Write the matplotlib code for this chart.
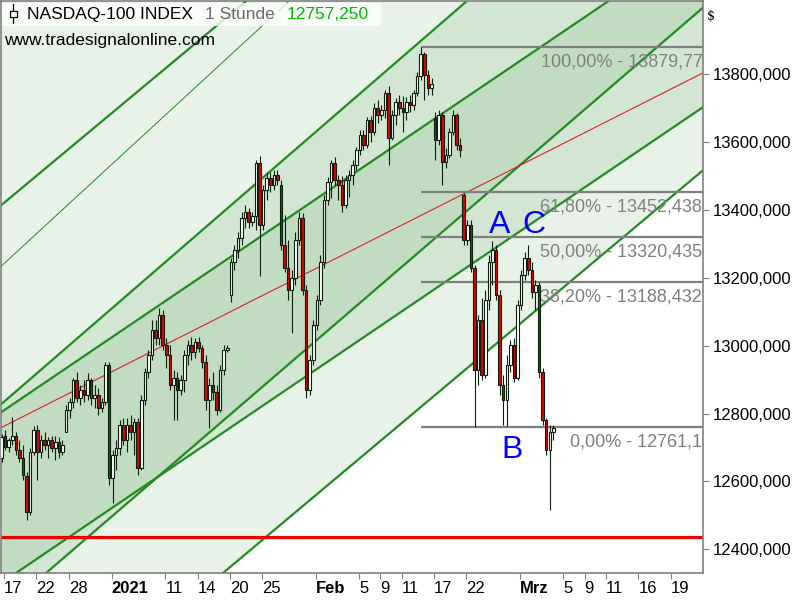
import numpy as np
import matplotlib.pyplot as plt
from matplotlib.patches import Rectangle
from matplotlib.lines import Line2D
from matplotlib.transforms import offset_copy

plt.rcParams['font.family'] = ['Liberation Sans', 'DejaVu Sans']

opens = [12669, 12734, 12701, 12722, 12734, 12693, 12669, 12616, 12510, 12687,
         12752, 12687, 12722, 12707, 12722, 12698, 12716, 12687, 12746, 12811,
         12834, 12899, 12846, 12870, 12855, 12899, 12846, 12855, 12816, 12834,
         12943, 12610, 12678, 12698, 12766, 12722, 12766, 12746, 12775, 12639,
         12840, 12923, 12973, 13047, 13023, 13091, 13002, 12973, 12884, 12905,
         12870, 12899, 12973, 13002, 12982, 13011, 12993, 12952, 12840, 12884,
         12864, 12811, 12929, 12988, 13150, 13247, 13283, 13318, 13377, 13395,
         13365, 13383, 13539, 13356, 13460, 13495, 13474, 13504, 13474, 13297,
         13229, 13165, 13200, 13312, 13377, 13165, 12870, 12958, 13061, 13135,
         13247, 13430, 13483, 13539, 13489, 13474, 13415, 13489, 13504, 13533,
         13578, 13622, 13592, 13666, 13631, 13701, 13681, 13696, 13746, 13613,
         13681, 13719, 13701, 13690, 13719, 13710, 13746, 13796, 13861, 13799,
         13760, 13672, 13607, 13681, 13542, 13563, 13631, 13681, 13592, 13445,
         13312, 13356, 13229, 12929, 13076, 12914, 13135, 13247, 13283, 13150,
         12884, 12840, 12943, 13002, 12905, 13120, 13209, 13259, 13224, 13159,
         13179, 12923, 12781, 12693, 12746]
highs = [12740, 12752, 12728, 12790, 12746, 12722, 12707, 12628, 12698, 12763,
         12766, 12737, 12746, 12731, 12734, 12734, 12731, 12722, 12825, 12846,
         12905, 12923, 12884, 12899, 12920, 12905, 12884, 12875, 12846, 12952,
         12952, 12693, 12722, 12781, 12787, 12787, 12796, 12787, 12787, 12855,
         12934, 12988, 13076, 13076, 13111, 13106, 13023, 13002, 12929, 12923,
         12914, 12988, 13017, 13026, 13023, 13026, 13002, 12973, 12905, 12923,
         12884, 12943, 13002, 13002, 13259, 13297, 13336, 13395, 13415, 13406,
         13395, 13548, 13560, 13474, 13513, 13513, 13519, 13519, 13489, 13386,
         13312, 13224, 13336, 13395, 13392, 13179, 12973, 13076, 13150, 13268,
         13445, 13498, 13548, 13557, 13504, 13501, 13504, 13519, 13548, 13586,
         13637, 13637, 13675, 13678, 13716, 13725, 13710, 13755, 13766, 13696,
         13731, 13740, 13737, 13734, 13740, 13755, 13808, 13879.77, 13867, 13814,
         13790, 13690, 13696, 13690, 13583, 13642, 13696, 13687, 13613, 13451,
         13371, 13371, 13238, 13091, 13141, 13165, 13268, 13310, 13297, 13165,
         12914, 12973, 13017, 13023, 13135, 13224, 13277, 13297, 13247, 13194,
         13188, 12934, 12787, 12766, 12766]
lows = [12657, 12693, 12687, 12707, 12678, 12657, 12604, 12486, 12501, 12678,
        12604, 12669, 12693, 12669, 12687, 12663, 12669, 12678, 12746, 12787,
        12816, 12834, 12825, 12834, 12840, 12825, 12816, 12796, 12805, 12825,
        12589, 12536, 12634, 12678, 12707, 12687, 12722, 12678, 12619, 12634,
        12825, 12905, 12958, 13002, 13002, 12988, 12934, 12870, 12781, 12781,
        12855, 12864, 12943, 12958, 12964, 12982, 12934, 12811, 12757, 12840,
        12796, 12805, 12914, 12982, 13129, 13224, 13259, 13297, 13347, 13347,
        13353, 13342, 13206, 13342, 13430, 13454, 13460, 13474, 13283, 13218,
        13135, 13038, 13179, 13297, 13150, 12846, 12855, 12943, 13047, 13120,
        13229, 13415, 13436, 13474, 13430, 13395, 13406, 13439, 13474, 13519,
        13563, 13578, 13583, 13601, 13622, 13657, 13666, 13672, 13533, 13607,
        13651, 13681, 13631, 13666, 13690, 13696, 13737, 13784, 13725, 13740,
        13740, 13548, 13592, 13474, 13524, 13554, 13622, 13578, 13557, 13297,
        13297, 13218, 12761.1, 12884, 12899, 12905, 13106, 13179, 13135, 12855,
        12766, 12763, 12923, 12893, 12899, 13106, 13194, 13209, 13141, 13106,
        12905, 12766, 12678, 12515, 12722]
closes = [12731, 12701, 12722, 12734, 12693, 12669, 12619, 12510, 12687, 12752,
          12687, 12722, 12707, 12722, 12698, 12716, 12687, 12707, 12811, 12834,
          12899, 12846, 12870, 12855, 12899, 12846, 12855, 12816, 12834, 12943,
          12610, 12678, 12698, 12766, 12722, 12766, 12746, 12775, 12639, 12840,
          12923, 12973, 13047, 13023, 13091, 13002, 12973, 12884, 12905, 12870,
          12899, 12973, 13002, 12982, 13011, 12993, 12952, 12840, 12884, 12864,
          12811, 12929, 12988, 12993, 13247, 13283, 13318, 13377, 13395, 13365,
          13383, 13539, 13356, 13460, 13495, 13474, 13504, 13489, 13297, 13229,
          13165, 13200, 13312, 13377, 13165, 12870, 12958, 13061, 13135, 13247,
          13430, 13483, 13539, 13489, 13474, 13415, 13489, 13504, 13533, 13578,
          13622, 13592, 13666, 13631, 13701, 13681, 13696, 13746, 13613, 13681,
          13719, 13701, 13690, 13719, 13710, 13746, 13796, 13861, 13799, 13760,
          13772, 13607, 13681, 13542, 13563, 13631, 13681, 13592, 13578, 13312,
          13356, 13229, 12929, 13076, 12914, 13135, 13247, 13283, 13150, 12884,
          12840, 12943, 13002, 12905, 13120, 13209, 13259, 13224, 13159, 13179,
          12923, 12781, 12693, 12746, 12757.25]

# Handelstag-Index der Achsenbeschriftungen (0 = 17.12.2020)
tick_days = [0, 3, 6, 10, 15, 18, 21, 24, 29, 33, 35, 37, 40, 43, 48, 52, 54, 56, 59, 62]
tick_labels = ['17', '22', '28', '2021', '11', '14', '20', '25', 'Feb', '5', '9', '11',
               '17', '22', 'Mrz', '5', '9', '11', '16', '19']
bold_labels = ['2021', 'Feb', 'Mrz']

# Kanallinien: (Tag1, Kurs1, Tag2, Kurs2)
steep_lines = [(-0.37, 13412, 22.42, 14014),
               (-0.37, 12825, 43.16, 14020),
               (3.91, 12330, 64.74, 13990),
               (20.37, 12330, 65.02, 13518)]
thin_line = (-0.37, 13232, 26.42, 14014)
flat_lines = [(-0.37, 12802, 56.37, 14020),
              (1.12, 12330, 65.02, 13704)]
mid_line = (-0.37, 12757, 65.02, 13805)
support = 12436

fib_high = 13879.77
fib_low = 12761.1
fib_ratios = [1.0, 0.618, 0.5, 0.382, 0.0]
fib_label_days = [49.95, 49.86, 49.86, 49.86, 52.65]

x_lo, x_hi = -0.28, 65.02
y_lo, y_hi = 12329.6, 14017

light, mid, dark = '#e8f2e8', '#d3e6d3', '#c1dcc1'
green = '#228b22'
outline = '#0b1f0b'


def line_at(l, x):
    d1, p1, d2, p2 = l
    return p1 + (p2 - p1) * (x - d1) / (d2 - d1)


fig = plt.figure(figsize=(8, 6), dpi=100)
ax = fig.add_axes([0.0015, 0.045, 0.8775, 0.9535])
ax.set_facecolor('white')
ax.set_xlim(x_lo, x_hi)
ax.set_ylim(y_lo, y_hi)

# Flaechen der Kanaele
xs = np.linspace(x_lo, x_hi, 600)
s_up, s_dn = line_at(steep_lines[1], xs), line_at(steep_lines[2], xs)
m_up, m_dn = line_at(flat_lines[0], xs), line_at(flat_lines[1], xs)
ax.fill_between(xs, line_at(steep_lines[3], xs), 20000, color=light, lw=0, zorder=0)
ax.fill_between(xs, s_dn, s_up, color=mid, lw=0, zorder=0.5)
ax.fill_between(xs, m_dn, m_up, color=mid, lw=0, zorder=0.5)
lo = np.maximum(s_dn, m_dn)
hi = np.minimum(s_up, m_up)
ax.fill_between(xs, lo, hi, where=hi > lo, interpolate=True, color=dark, lw=0, zorder=0.7)

for l in steep_lines + flat_lines:
    ax.axline((l[0], l[1]), (l[2], l[3]), color=green, lw=1.6, zorder=2)
ax.axline((thin_line[0], thin_line[1]), (thin_line[2], thin_line[3]), color=green, lw=0.7, zorder=2)
ax.axline((mid_line[0], mid_line[1]), (mid_line[2], mid_line[3]), color='#dd2020', lw=0.8, zorder=2)
ax.axhline(support, color='#ee0000', lw=2.3, zorder=2.5)

# Kerzen
o = np.array(opens)
h = np.array(highs)
lw_ = np.array(lows)
c = np.array(closes)
xpos = -0.25 + np.arange(len(o)) / 3
ax.vlines(xpos, lw_, h, color=outline, lw=0.8, zorder=4)
body_lo = np.minimum(o, c)
body_h = np.maximum(np.abs(c - o), 3)
cols = np.where(c < o, '#e00000', 'white')
ax.bar(xpos, body_h, bottom=body_lo, width=0.24, color=cols, edgecolor=outline,
       linewidth=0.8, zorder=5)

# Fibonacci
fib_start = xpos[int(np.argmax(h))]
levels = [fib_low + r * (fib_high - fib_low) for r in fib_ratios]
ax.hlines(levels, fib_start, x_hi, color='#7f7f7f', lw=1.6, zorder=3)
below = offset_copy(ax.transData, fig=fig, x=0, y=-14, units='points')
for r, lev, xd in zip(fib_ratios, levels, fib_label_days):
    txt = f"{r * 100:.2f}%".replace('.', ',') + " - " + f"{lev:.3f}".replace('.', ',')
    t = ax.text(xd, lev, txt, transform=below, color='#808080', fontsize=13,
                ha='left', va='baseline', zorder=6)
    t.set_clip_box(ax.bbox)
    t.set_clip_on(True)

ax.text(46.05, 13333, 'A', color='#0000ff', fontsize=23, ha='center', va='baseline', zorder=7)
ax.text(49.3, 13333, 'C', color='#0000ff', fontsize=23, ha='center', va='baseline', zorder=7)
ax.text(47.26, 12669, 'B', color='#0000ff', fontsize=23, ha='center', va='baseline', zorder=7)

# Achsen
ax.yaxis.tick_right()
ax.set_yticks(np.arange(12400, 13801, 200))
ax.set_yticklabels([f"{v:.3f}".replace('.', ',') for v in np.arange(12400, 13801, 200)])
ax.tick_params(axis='y', direction='out', length=4, width=0.8, color='#808080', pad=3,
               labelsize=12, labelcolor='black')
ax.set_xticks(tick_days)
ax.set_xticklabels(tick_labels, ha='left')
ax.tick_params(axis='x', direction='out', length=4, width=0.8, color='#808080', pad=2,
               labelsize=12, labelcolor='black')
for lab in ax.get_xticklabels():
    if lab.get_text() in bold_labels:
        lab.set_fontweight('bold')
for sp in ax.spines.values():
    sp.set_color('#808080')
    sp.set_linewidth(1.2)

# Kopfzeile
fig.patches.append(Rectangle((2 / 800, 1 - 26 / 600), 379 / 800, 23 / 600,
                             transform=fig.transFigure, facecolor='white', alpha=0.8,
                             edgecolor='none', zorder=10))
fig.add_artist(Line2D([13 / 800, 13 / 800], [1 - 4 / 600, 1 - 23 / 600],
                      transform=fig.transFigure, color='black', lw=0.9, zorder=11))
fig.patches.append(Rectangle((10 / 800, 1 - 17 / 600), 7 / 800, 6 / 600,
                             transform=fig.transFigure, facecolor='white',
                             edgecolor='black', lw=0.9, zorder=12))
fig.text(27 / 800, 1 - 19 / 600, 'NASDAQ-100 INDEX', fontsize=12.5, color='black',
         va='baseline', zorder=12)
fig.text(205 / 800, 1 - 19 / 600, '1 Stunde', fontsize=12.5, color='#6a6a6a',
         va='baseline', zorder=12)
fig.text(287 / 800, 1 - 19 / 600, f"{closes[-1]:.3f}".replace('.', ','), fontsize=12.5,
         color='#00bb00', va='baseline', zorder=12)
fig.text(4 / 800, 1 - 45 / 600, 'www.tradesignalonline.com', fontsize=12.5, color='black',
         va='baseline', zorder=12)
fig.text(707 / 800, 1 - 20 / 600, '$', fontsize=9, family='DejaVu Serif', color='black',
         va='baseline')

fig.savefig('out.png', dpi=100)
